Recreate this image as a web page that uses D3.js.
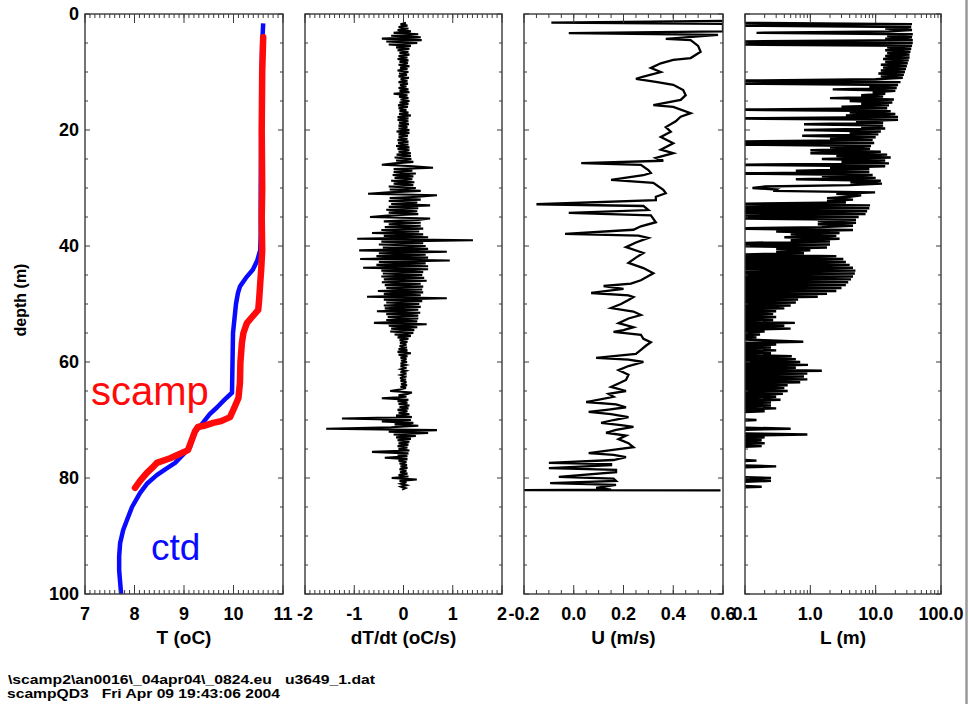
<!DOCTYPE html>
<html>
<head>
<meta charset="UTF-8">
<title>scamp profile</title>
<script src="https://d3js.org/d3.v7.min.js"></script>
<style>
  body { margin: 0; background: #fff; }
  text { font-family: "Liberation Sans", Arial, sans-serif; }
</style>
</head>
<body>
<svg width="969" height="704"></svg>
<script>
// temperature, ctd and scamp
const ctdDepth = [1.6, 5, 10, 20, 30, 38, 40.7, 42.5, 44.1, 45.5, 47, 48.1, 50, 55, 60, 65.3, 66.5, 67.8, 69, 70.5,
  72.1, 74.7, 76, 77.4, 78.5, 79.5, 81, 82.6, 85, 87.2, 89, 91.2, 93.5, 95.9, 98, 100];
const ctdTemp = [10.60, 10.58, 10.57, 10.56, 10.55, 10.55, 10.54, 10.48, 10.39, 10.25, 10.13, 10.09, 10.05, 9.99, 9.98, 9.97, 9.82, 9.67, 9.52, 9.38,
  9.22, 9.12, 8.98, 8.82, 8.62, 8.45, 8.25, 8.11, 7.95, 7.85, 7.77, 7.71, 7.69, 7.69, 7.71, 7.73];
const scampDepth = [4, 10, 20, 30, 35, 40.7, 44, 46.4, 49, 51, 52.2, 53.3, 55, 56.7, 60, 63.6, 66.2, 67.8, 69.5, 70.2,
  70.5, 71, 71.2, 72, 72.9, 75.2, 75.9, 76.6, 77.4, 78.3, 79.1, 80.4, 81.7];
const scampTemp = [10.60, 10.58, 10.57, 10.58, 10.57, 10.58, 10.56, 10.54, 10.52, 10.50, 10.38, 10.27, 10.20, 10.17, 10.14, 10.13, 10.10, 10.02, 9.93, 9.75,
  9.59, 9.40, 9.28, 9.22, 9.18, 9.08, 8.90, 8.72, 8.45, 8.35, 8.25, 8.12, 8.01];

// dT/dt and L are sampled every 0.25 m starting at 1.5 m (one row = 5 m)
const gridStart = 1.5, gridStep = 0.25;
const dtdt = [
  0.05, -0.06, 0.08, -0.10, 0.10, -0.12, 0.15, -0.20, 0.30, -0.25, 0.35, -0.44, 0.37, -0.35, 0.28, -0.30, 0.15, -0.15, 0.12, -0.12,
  0.10, -0.08, 0.12, -0.10, 0.08, -0.12, 0.10, -0.08, 0.09, -0.10, 0.12, -0.07, 0.08, -0.12, 0.10, -0.09, 0.07, -0.10, 0.11, -0.06,
  0.08, -0.10, 0.09, -0.07, 0.06, -0.10, 0.10, -0.08, 0.12, -0.20, 0.08, -0.09, 0.10, -0.06, 0.12, -0.08, 0.10, -0.11, 0.09, -0.10,
  0.06, -0.08, 0.10, -0.09, 0.15, -0.12, 0.10, -0.12, 0.10, -0.09, 0.11, -0.10, 0.08, -0.10, 0.12, -0.14, 0.12, -0.10, 0.09, -0.10,
  0.08, -0.12, 0.10, -0.11, 0.10, -0.15, 0.12, -0.12, 0.12, -0.10, 0.15, -0.14, 0.15, -0.18, 0.16, -0.15, 0.20, -0.18, -0.44, 0.20,
  0.60, -0.20, 0.18, -0.20, 0.25, -0.22, 0.20, -0.18, 0.18, -0.25, 0.22, -0.20, 0.20, -0.30, 0.25, -0.28, 0.35, -0.30, -0.72, 0.68,
  0.30, -0.28, 0.35, -0.30, 0.28, -0.25, 0.54, -0.30, 0.30, -0.35, 0.28, -0.30, 0.30, -0.32, -0.68, 0.54, 0.30, -0.40, 0.35, -0.30,
  0.35, -0.38, 0.40, -0.45, 0.32, -0.64, 0.40, -0.40, 0.50, -0.94, 1.41, -0.45, 0.40, -0.50, 0.45, -0.42, 0.50, -0.90, 0.88, -0.50,
  0.45, -0.55, 0.50, -0.88, 0.94, -0.50, 0.45, -0.55, 0.50, -0.82, 0.50, -0.45, 0.40, -0.42, 0.38, -0.45, 0.42, -0.40, 0.47, -0.44,
  0.35, -0.38, 0.40, -0.35, 0.38, -0.52, 0.40, -0.40, 0.35, -0.74, 0.88, -0.40, 0.38, -0.35, 0.32, -0.40, 0.35, -0.38, 0.30, -0.54,
  0.34, -0.35, 0.30, -0.32, 0.30, -0.35, 0.28, -0.60, 0.47, -0.30, 0.28, -0.25, 0.22, -0.27, 0.20, -0.18, 0.15, -0.12, 0.10, -0.08,
  0.08, -0.07, 0.06, -0.08, 0.07, -0.10, 0.08, -0.12, 0.15, -0.10, 0.08, -0.06, 0.06, -0.05, 0.07, -0.06, 0.05, -0.06, 0.06, -0.05,
  0.05, -0.06, 0.06, -0.05, 0.06, -0.07, 0.05, -0.06, 0.06, -0.05, 0.07, -0.06, 0.05, -0.08, -0.27, 0.17, 0.08, -0.10, 0.06, -0.44,
  0.10, -0.12, 0.08, -0.10, 0.12, -0.08, 0.10, -0.12, 0.08, -0.10, 0.12, -0.15, 0.17, -1.25, 0.15, -0.44, 0.20, -0.18, 0.30, -0.25,
  -1.57, 0.68, -0.30, 0.50, -0.20, 0.25, -0.15, 0.15, -0.12, 0.12, -0.10, 0.10, -0.12, 0.08, -0.10, 0.12, -0.64, 0.10, -0.12, 0.08,
  -0.38, 0.08, -0.10, 0.06, -0.08, 0.07, -0.06, 0.08, -0.08, 0.06, -0.07, 0.08, -0.10, 0.10, -0.24, 0.27, -0.08, 0.06, -0.05, 0.06,
  -0.05, 0.04, -0.03
];
const lScale = [
  0.05, 36, 0.05, 35, 14, 36, 16, 0.15, 37, 15, 36, 14, 37, 0.05, 37, 0.05, 36, 15, 35, 14,
  34, 15, 33, 14, 33, 13, 32, 14, 31, 12, 30, 13, 29, 12, 28, 11, 27, 12, 26, 10,
  0.05, 24, 0.05, 22, 8, 21, 2.2, 20, 9, 14, 6, 13, 2.0, 19, 4, 18, 6, 16, 3, 15,
  0.05, 17, 4, 20, 3.5, 22, 0.05, 22, 5, 13, 0.8, 13, 6, 14, 0.8, 12, 4, 11, 0.75, 10,
  2, 9, 0.05, 9.5, 0.05, 8.5, 2, 8.2, 1.0, 12, 1.0, 15, 2.5, 17, 1.5, 14, 3, 16, 0.05, 14,
  2, 8, 0.6, 8, 0.05, 9, 1.5, 10, 0.6, 12, 4.1, 12.5, 4, 0.2, 0.13, 0.3, 0.27, 9.8, 2.5, 6,
  4, 1.8, 4.5, 1.8, 3.5, 0.05, 8.2, 0.05, 8, 0.05, 7.4, 0.05, 7, 0.05, 5.5, 0.05, 5, 1.3, 5, 1.3,
  4.5, 1.5, 0.05, 4.5, 0.3, 2.8, 0.5, 2.5, 0.4, 2.8, 0.5, 2.0, 0.05, 2.0, 0.05, 1.8, 0.3, 1.0, 0.3, 0.8,
  0.05, 2.5, 0.05, 3.2, 0.05, 3.5, 0.05, 4.0, 0.05, 4.5, 0.05, 4.9, 0.05, 4.8, 0.05, 4.5, 0.05, 4.2, 0.05, 3.8,
  0.05, 3.5, 0.05, 3.0, 0.05, 2.5, 0.05, 1.8, 0.05, 1.3, 0.05, 0.65, 0.05, 0.6, 0.05, 0.5, 0.05, 0.4, 0.05, 0.3,
  0.05, 0.27, 0.05, 0.3, 0.05, 0.27, 0.05, 0.58, 0.05, 0.4, 0.05, 0.5, 0.05, 0.2, 0.05, 0.17, 0.05, 0.15, 0.05, 0.2,
  0.78, 0.05, 0.3, 0.05, 0.25, 0.05, 0.3, 0.05, 0.25, 0.05, 0.52, 0.05, 0.6, 0.05, 0.7, 0.05, 0.92, 0.05, 0.6, 0.05,
  1.5, 0.05, 0.9, 0.05, 0.8, 0.05, 0.9, 0.05, 0.7, 0.05, 0.45, 0.05, 0.4, 0.05, 0.45, 0.05, 0.38, 0.05, 0.3, 0.05,
  0.35, 0.05, 0.25, 0.05, 0.25, 0.05, 0.3, 0.05, 0.2, 0.05, 0.05, 0.05, 0.05, 0.05, 0.15, 0.05, 0.05, 0.05, 0.05, 0.05,
  0.5, 0.05, 0.05, 0.05, 0.9, 0.05, 0.2, 0.05, 0.18, 0.05, 0.2, 0.05, 0.18, 0.05, 0.05, 0.05, 0.05, 0.05, 0.05, 0.05,
  0.05, 0.05, 0.15, 0.05, 0.05, 0.05, 0.3, 0.05, 0.05, 0.05, 0.05, 0.05, 0.05, 0.05, 0.25, 0.05, 0.25, 0.05, 0.05, 0.05,
  0.18, 0.05, 0.05
];

// velocity
const uDepth = [1.2, 1.5, 1.7, 3.0, 3.3, 3.6, 4.3, 4.5, 5.5, 6.5, 7.6, 7.9, 8.5, 9.3, 10.0, 10.8, 11.2, 11.7, 12.2, 13.1,
  14.0, 14.8, 15.7, 16.0, 17.1, 17.7, 18.5, 19.5, 20.3, 21.2, 22.3, 23.4, 24.0, 24.8, 25.3, 25.7, 26.0, 26.9, 27.4, 27.8,
  28.6, 29.1, 30.3, 30.9, 31.5, 32.1, 32.8, 33.1, 33.8, 34.3, 34.7, 35.9, 36.6, 37.2, 37.9, 38.2, 38.6, 39.4, 40.2, 41.2,
  42.0, 42.9, 43.8, 44.7, 45.9, 46.5, 46.9, 47.4, 48.1, 48.5, 48.8, 49.3, 50.0, 50.7, 51.3, 51.9, 52.5, 53.3, 54.0, 54.5,
  54.8, 55.3, 56.0, 56.6, 57.2, 57.9, 58.6, 59.3, 59.6, 60.0, 60.7, 61.4, 62.2, 63.1, 63.7, 64.3, 65.0, 65.5, 66.0, 66.9,
  67.3, 67.8, 68.2, 68.6, 69.0, 69.5, 70.0, 70.5, 70.9, 71.2, 71.7, 72.2, 72.7, 73.3, 74.0, 74.7, 75.2, 75.7, 76.0, 76.4,
  76.9, 77.4, 77.6, 77.8, 78.3, 78.6, 79.0, 79.8, 80.1, 80.5, 80.9, 81.2, 81.7, 82.0, 82.1, 82.15];
const uVel = [0.60, -0.09, 0.60, 0.60, -0.02, 0.58, 0.37, 0.47, 0.50, 0.51, 0.47, 0.40, 0.35, 0.31, 0.35, 0.28, 0.25, 0.33, 0.40, 0.44,
  0.45, 0.43, 0.32, 0.40, 0.47, 0.43, 0.41, 0.37, 0.39, 0.35, 0.40, 0.35, 0.40, 0.33, 0.36, 0.03, 0.27, 0.30, 0.31, 0.28,
  0.15, 0.32, 0.36, 0.37, 0.33, 0.33, -0.15, 0.28, 0.30, -0.02, 0.31, 0.33, 0.27, 0.24, -0.035, 0.26, 0.30, 0.25, 0.21, 0.28,
  0.25, 0.22, 0.28, 0.32, 0.27, 0.23, 0.12, 0.20, 0.07, 0.22, 0.24, 0.22, 0.19, 0.15, 0.24, 0.27, 0.22, 0.18, 0.24, 0.20,
  0.16, 0.27, 0.28, 0.31, 0.29, 0.27, 0.25, 0.09, 0.22, 0.28, 0.22, 0.18, 0.22, 0.21, 0.18, 0.15, 0.21, 0.14, 0.16, 0.05,
  0.17, 0.21, 0.14, 0.06, 0.15, 0.22, 0.16, 0.11, 0.19, 0.24, 0.17, 0.13, 0.21, 0.18, 0.22, 0.24, 0.15, 0.06, 0.16, 0.21,
  0.16, -0.10, 0.15, 0.15, -0.10, 0.17, 0.17, -0.06, 0.16, 0.17, -0.095, 0.17, 0.09, 0.15, -0.2, 0.59];

const depthTicks = [0, 20, 40, 60, 80, 100];
const tTicks = [7, 8, 9, 10, 11];
const dtTicks = [-2, -1, 0, 1, 2];
const uTicks = [-0.2, 0, 0.2, 0.4, 0.6];
const lTicks = [0.1, 1, 10, 100];

const ink = "#3a3a3a";
const yTop = 14, yBot = 594;
const svg = d3.select("svg");
const y = d3.scaleLinear().domain([0, 100]).range([yTop, yBot]);

const panels = [
  { x: d3.scaleLinear().domain([7, 11]).range([85, 283]), ticks: tTicks, minor: d3.range(70, 111).map(d => d / 10),
    fmt: d => String(d), title: "T (oC)" },
  { x: d3.scaleLinear().domain([-2, 2]).range([305, 502]), ticks: dtTicks, minor: d3.range(-20, 21).map(d => d / 10),
    fmt: d => String(d), title: "dT/dt (oC/s)" },
  { x: d3.scaleLinear().domain([-0.2, 0.6]).range([524, 723]), ticks: uTicks, minor: d3.range(-4, 13).map(d => d / 20),
    fmt: d => d.toFixed(1), title: "U (m/s)" },
  { x: d3.scaleLog().domain([0.1, 100]).range([745, 941]), ticks: lTicks, minor: d3.scaleLog().domain([0.1, 100]).ticks(),
    fmt: d => d.toFixed(1), title: "L (m)" }
];

const defs = svg.append("defs");

panels.forEach((p, i) => {
  const [x0, x1] = p.x.range();
  const g = svg.append("g");
  defs.append("clipPath").attr("id", "clip" + i)
    .append("rect").attr("x", x0).attr("y", yTop).attr("width", x1 - x0).attr("height", yBot - yTop);
  p.g = g.append("g").attr("clip-path", `url(#clip${i})`);

  const t = g.append("g").attr("stroke", ink).attr("stroke-width", 1);
  // minor x ticks, bottom and top
  t.selectAll(".xmb").data(p.minor).join("line")
    .attr("x1", d => p.x(d)).attr("x2", d => p.x(d)).attr("y1", yBot).attr("y2", yBot - 4);
  t.selectAll(".xmt").data(p.minor).join("line")
    .attr("x1", d => p.x(d)).attr("x2", d => p.x(d)).attr("y1", yTop).attr("y2", yTop + 4);
  t.selectAll(".xb").data(p.ticks).join("line")
    .attr("x1", d => p.x(d)).attr("x2", d => p.x(d)).attr("y1", yBot).attr("y2", yBot - 9);
  t.selectAll(".xt").data(p.ticks).join("line")
    .attr("x1", d => p.x(d)).attr("x2", d => p.x(d)).attr("y1", yTop).attr("y2", yTop + 9);
  // depth ticks, both sides
  const dm = d3.range(0, 101, 5);
  t.selectAll(".yl").data(dm).join("line")
    .attr("x1", x0).attr("x2", d => x0 + (d % 20 === 0 ? 5 : 3)).attr("y1", d => y(d)).attr("y2", d => y(d));
  t.selectAll(".yr").data(dm).join("line")
    .attr("x1", x1).attr("x2", d => x1 - (d % 20 === 0 ? 5 : 3)).attr("y1", d => y(d)).attr("y2", d => y(d));

  g.append("rect").attr("x", x0).attr("y", yTop).attr("width", x1 - x0).attr("height", yBot - yTop)
    .attr("fill", "none").attr("stroke", ink).attr("stroke-width", 1.4);

  g.append("g").attr("font-size", 18).attr("font-weight", "bold").attr("text-anchor", "middle")
    .selectAll("text").data(p.ticks).join("text")
    .attr("x", d => p.x(d)).attr("y", 620).text(p.fmt);
  g.append("text").attr("x", (x0 + x1) / 2).attr("y", 644).attr("text-anchor", "middle")
    .attr("font-size", 19).attr("font-weight", "bold").text(p.title);
});

// depth axis labels
svg.append("g").attr("font-size", 18).attr("font-weight", "bold").attr("text-anchor", "end")
  .selectAll("text").data(depthTicks).join("text")
  .attr("x", 79).attr("y", d => y(d) + 6).text(d => d);
svg.append("text").attr("transform", "translate(26,300) rotate(-90)").attr("text-anchor", "middle")
  .attr("font-size", 16).attr("font-weight", "bold").text("depth (m)");

// panel 1: temperature
const pT = panels[0];
const tLine = d3.line().x(d => pT.x(d[1])).y(d => y(d[0]));
pT.g.append("path").datum(ctdDepth.map((d, i) => [d, ctdTemp[i]]))
  .attr("d", tLine).attr("fill", "none").attr("stroke", "#0a0aff").attr("stroke-width", 4.5)
  .attr("stroke-linejoin", "round");
pT.g.append("path").datum(scampDepth.map((d, i) => [d, scampTemp[i]]))
  .attr("d", tLine).attr("fill", "none").attr("stroke", "#ff0a0a").attr("stroke-width", 6.5)
  .attr("stroke-linejoin", "round").attr("stroke-linecap", "round");
svg.append("text").attr("x", 91).attr("y", 405).attr("font-size", 40).attr("fill", "#ff0a0a").text("scamp");
svg.append("text").attr("x", 151).attr("y", 560).attr("font-size", 37).attr("fill", "#0a0aff").text("ctd");

// panel 2: dT/dt
const pD = panels[1];
pD.g.append("path").datum(dtdt.map((v, i) => [gridStart + i * gridStep, v]))
  .attr("d", d3.line().x(d => pD.x(d[1])).y(d => y(d[0])))
  .attr("fill", "none").attr("stroke", "#000").attr("stroke-width", 2.1);

// panel 3: U
const pU = panels[2];
pU.g.append("path").datum(uDepth.map((d, i) => [d, uVel[i]]))
  .attr("d", d3.line().x(d => pU.x(d[1])).y(d => y(d[0])))
  .attr("fill", "none").attr("stroke", "#000").attr("stroke-width", 2.3);

// panel 4: L
const pL = panels[3];
pL.g.append("path").datum(lScale.map((v, i) => [gridStart + i * gridStep, v]))
  .attr("d", d3.line().x(d => pL.x(d[1])).y(d => y(d[0])))
  .attr("fill", "none").attr("stroke", "#000").attr("stroke-width", 2.4);

// edge of the next plot
svg.append("line").attr("x1", 966.5).attr("x2", 966.5).attr("y1", 0).attr("y2", 704)
  .attr("stroke", "#999").attr("stroke-width", 2.5);

// file info
svg.append("text").attr("x", 8).attr("y", 684).attr("font-size", 13).attr("font-weight", "bold")
  .attr("textLength", 367).attr("lengthAdjust", "spacingAndGlyphs")
  .text("\\scamp2\\an0016\\_04apr04\\_0824.eu   u3649_1.dat").style("white-space", "pre");
svg.append("text").attr("x", 7).attr("y", 698).attr("font-size", 13).attr("font-weight", "bold")
  .attr("textLength", 273).attr("lengthAdjust", "spacingAndGlyphs")
  .text("scampQD3   Fri Apr 09 19:43:06 2004").style("white-space", "pre");
</script>
</body>
</html>
